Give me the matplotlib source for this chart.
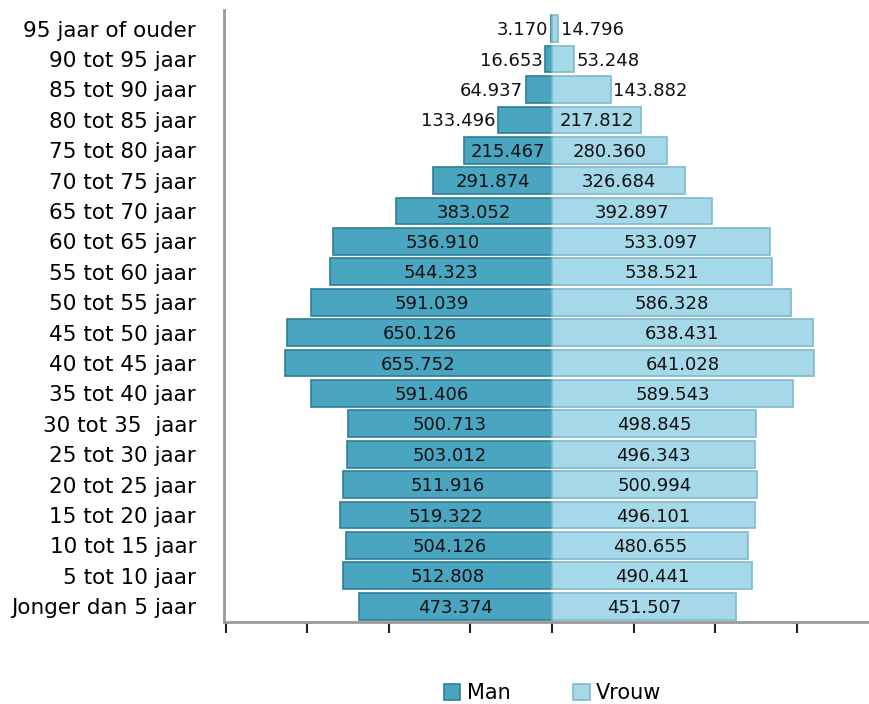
import matplotlib.pyplot as plt
import numpy as np

## data
groups = ['Jonger dan 5 jaar', '5 tot 10 jaar', '10 tot 15 jaar', '15 tot 20 jaar',
          '20 tot 25 jaar', '25 tot 30 jaar', '30 tot 35  jaar', '35 tot 40 jaar',
          '40 tot 45 jaar', '45 tot 50 jaar', '50 tot 55 jaar', '55 tot 60 jaar',
          '60 tot 65 jaar', '65 tot 70 jaar', '70 tot 75 jaar', '75 tot 80 jaar',
          '80 tot 85 jaar', '85 tot 90 jaar', '90 tot 95 jaar', '95 jaar of ouder']
man = [473374, 512808, 504126, 519322, 511916, 503012, 500713, 591406, 655752, 650126,
       591039, 544323, 536910, 383052, 291874, 215467, 133496, 64937, 16653, 3170]
vrouw = [451507, 490441, 480655, 496101, 500994, 496343, 498845, 589543, 641028, 638431,
         586328, 538521, 533097, 392897, 326684, 280360, 217812, 143882, 53248, 14796]

man_color = '#4aa5c0'
vrouw_color = '#a5d9e9'

def fmt(v) :
    return '{:,}'.format(v).replace(',', '.')

fig = plt.figure(figsize=(8.7, 7.04), dpi=100)
ax = fig.add_axes([0.2575, 0.1165, 0.7425, 0.8695])

y = np.arange(len(groups))
ax.barh(y, [-v for v in man], height=0.88, color=man_color, edgecolor='#2f7f96',
        linewidth=1.2, label='Man')
ax.barh(y, vrouw, height=0.88, color=vrouw_color, edgecolor='#7fb9cc',
        linewidth=1.2, label='Vrouw')

for i in range(len(groups)) :
    m = man[i]
    w = vrouw[i]
    if m >= 200000 :
        ax.text(-m / 2, i - 0.05, fmt(m), ha='center', va='center', fontsize=13, color='#111111')
    else :
        ax.text(-m - 6000, i - 0.05, fmt(m), ha='right', va='center', fontsize=13, color='#111111')
    if w >= 200000 :
        ax.text(w / 2, i - 0.05, fmt(w), ha='center', va='center', fontsize=13, color='#111111')
    else :
        ax.text(w + 6000, i - 0.05, fmt(w), ha='left', va='center', fontsize=13, color='#111111')

ax.set_yticks(y)
ax.set_yticklabels(groups, fontsize=15.5)
ax.tick_params(axis='y', length=0, pad=20)
ax.set_xticks(np.arange(-800000, 800000, 200000))
ax.set_xticklabels([])
ax.tick_params(axis='x', direction='out', length=8, width=1.5, color='#222222')
ax.set_xlim(-804000, 779000)
ax.set_ylim(-0.52, 19.62)

for s in ['top', 'right'] :
    ax.spines[s].set_visible(False)
ax.spines['left'].set_color('#999999')
ax.spines['left'].set_linewidth(2)
ax.spines['bottom'].set_color('#999999')
ax.spines['bottom'].set_linewidth(2)

fig.legend(loc='center', bbox_to_anchor=(0.635, 0.015), ncol=2, frameon=False,
           fontsize=15, handlelength=0.8, handleheight=0.8, columnspacing=3.0,
           handletextpad=0.3)

plt.savefig('out.png', dpi=100)
